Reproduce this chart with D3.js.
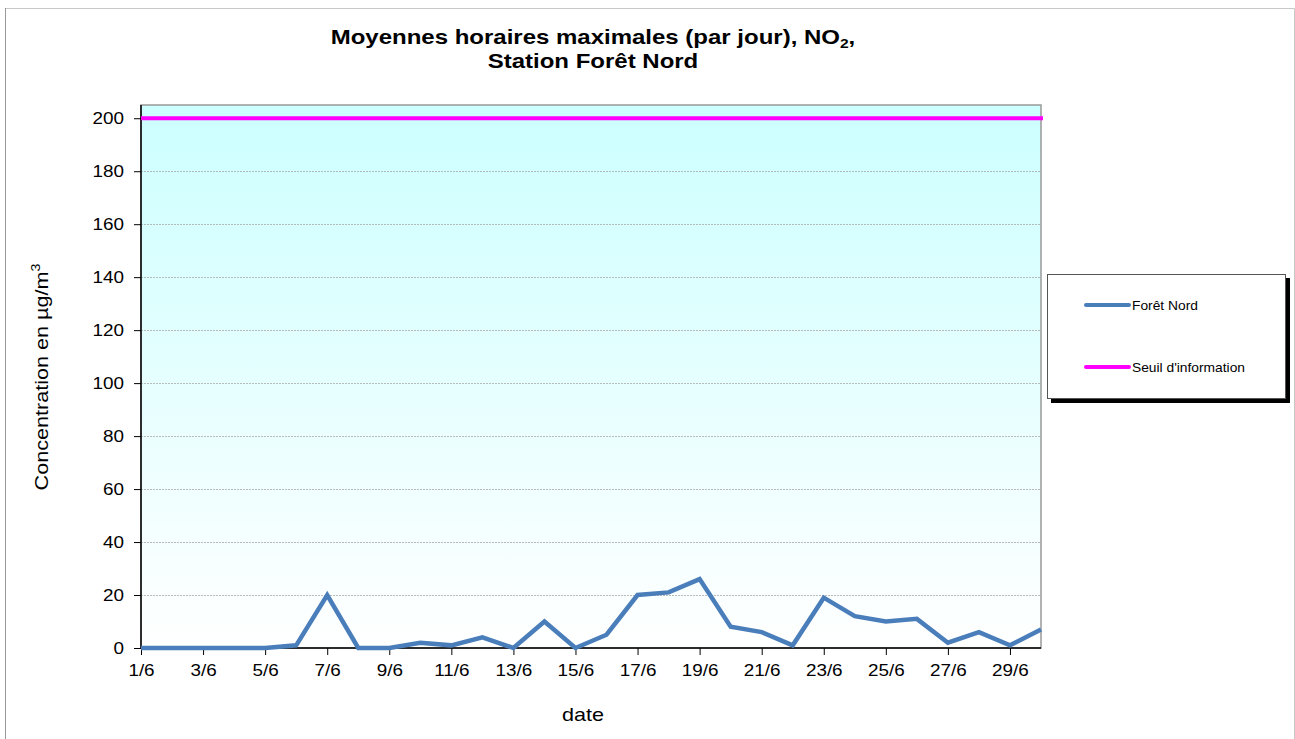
<!DOCTYPE html>
<html>
<head>
<meta charset="utf-8">
<script src="https://cdn.jsdelivr.net/npm/d3@7"></script>
<style>
  body { margin: 0; background: #fff; }
  svg { display: block; font-family: Arial, "Liberation Sans", sans-serif; }
</style>
</head>
<body>
<div id="chart"></div>
<script>
// data
var days = d3.range(1, 31);
var dayLabels = days.map(function(d) { return d + '/6'; });
var foretNord = [0, 0, 0, 0, 0, 1, 20, 0, 0, 2, 1, 4, 0, 10, 0, 5, 20, 21, 26, 8, 6, 1, 19, 12, 10, 11, 2, 6, 1, 7];
var seuil = 200;
var yTicks = [0, 20, 40, 60, 80, 100, 120, 140, 160, 180, 200];

var width = 1295, height = 739;
var plot = { left: 141, right: 1041, top: 105, bottom: 648 };
var stretch = 1.18; // text in the original is drawn wider than plain Arial

var svg = d3.select('#chart').append('svg')
  .attr('width', width)
  .attr('height', height);

// outer frame
svg.append('path')
  .attr('d', 'M5.5,750V8.5H1294.5V750')
  .attr('fill', 'none')
  .attr('stroke', '#c8c8c8');
svg.append('line')
  .attr('x1', 5.5).attr('x2', 5.5).attr('y1', 8).attr('y2', 739)
  .attr('stroke', '#999');

var defs = svg.append('defs');
var grad = defs.append('linearGradient')
  .attr('id', 'bg')
  .attr('x1', 0).attr('y1', 0).attr('x2', 0).attr('y2', 1);
grad.append('stop').attr('offset', '0%').attr('stop-color', '#ccffff');
grad.append('stop').attr('offset', '100%').attr('stop-color', '#ffffff');

var x = d3.scalePoint()
  .domain(days)
  .range([plot.left, plot.right]);

var y = d3.scaleLinear()
  .domain([0, 205])
  .range([plot.bottom, plot.top]);

// plot background
svg.append('rect')
  .attr('x', plot.left)
  .attr('y', plot.top)
  .attr('width', plot.right - plot.left)
  .attr('height', plot.bottom - plot.top)
  .attr('fill', 'url(#bg)')
  .attr('stroke', '#999')
  .attr('stroke-width', 1.5);

// gridlines
svg.append('g')
  .selectAll('line')
  .data(yTicks.slice(1))
  .enter().append('line')
  .attr('x1', plot.left)
  .attr('x2', plot.right)
  .attr('y1', function(d) { return Math.round(y(d)) + 0.5; })
  .attr('y2', function(d) { return Math.round(y(d)) + 0.5; })
  .attr('stroke', '#aaa')
  .attr('stroke-width', 0.8)
  .attr('stroke-dasharray', '2,1');

// y axis
var yAxis = svg.append('g')
  .attr('transform', 'translate(' + plot.left + ',0)')
  .call(d3.axisLeft(y).tickValues(yTicks).tickSize(7).tickPadding(10));
yAxis.select('.domain').attr('stroke', '#000').attr('stroke-width', 1.5)
  .attr('d', 'M0,' + plot.top + 'V' + plot.bottom);
yAxis.selectAll('.tick line').attr('stroke', '#000');
yAxis.selectAll('text')
  .attr('font-size', 16).attr('fill', '#000')
  .attr('font-family', 'Arial, "Liberation Sans", sans-serif')
  .attr('x', -17 / stretch)
  .attr('transform', 'scale(' + stretch + ',1)');

// x axis
var xAxis = svg.append('g')
  .attr('transform', 'translate(0,' + plot.bottom + ')')
  .call(d3.axisBottom(x)
    .tickValues(days.filter(function(d) { return d % 2 === 1; }))
    .tickFormat(function(d) { return dayLabels[d - 1]; })
    .tickSize(7).tickPadding(10));
xAxis.select('.domain').attr('stroke', '#000').attr('stroke-width', 1.5)
  .attr('d', 'M' + plot.left + ',0H' + plot.right);
xAxis.selectAll('.tick line').attr('stroke', '#000');
xAxis.selectAll('text')
  .attr('font-size', 16).attr('fill', '#000')
  .attr('font-family', 'Arial, "Liberation Sans", sans-serif')
  .attr('transform', 'scale(' + stretch + ',1)');

// threshold line
svg.append('line')
  .attr('x1', plot.left)
  .attr('x2', plot.right + 2)
  .attr('y1', y(seuil))
  .attr('y2', y(seuil))
  .attr('stroke', '#ff00ff')
  .attr('stroke-width', 4);

// series
var line = d3.line()
  .x(function(d, i) { return x(days[i]); })
  .y(function(d) { return y(d); });

svg.append('path')
  .datum(foretNord)
  .attr('d', line)
  .attr('fill', 'none')
  .attr('stroke', '#4a7ebb')
  .attr('stroke-width', 4.5)
  .attr('stroke-linejoin', 'miter');

// title
var t1 = svg.append('text')
  .attr('transform', 'translate(593,44) scale(1.2,1)')
  .attr('text-anchor', 'middle')
  .attr('font-size', 20)
  .attr('font-weight', 'bold')
  .text('Moyennes horaires maximales (par jour), NO');
t1.append('tspan').attr('font-size', 13).attr('dy', 4).text('2');
t1.append('tspan').attr('dy', -4).text(',');
svg.append('text')
  .attr('transform', 'translate(593,68) scale(1.2,1)')
  .attr('text-anchor', 'middle')
  .attr('font-size', 20)
  .attr('font-weight', 'bold')
  .text('Station Forêt Nord');

// axis titles
svg.append('text')
  .attr('transform', 'translate(583,721) scale(1.2,1)')
  .attr('text-anchor', 'middle')
  .attr('font-size', 18)
  .text('date');

var yt = svg.append('text')
  .attr('transform', 'translate(48,377) rotate(-90) scale(1.2,1)')
  .attr('text-anchor', 'middle')
  .attr('font-size', 18)
  .text('Concentration en µg/m');
yt.append('tspan').attr('font-size', 12).attr('dy', -8).text('3');

// legend
var legend = svg.append('g');
legend.append('rect')
  .attr('x', 1051).attr('y', 278)
  .attr('width', 239).attr('height', 125)
  .attr('fill', '#000');
legend.append('rect')
  .attr('x', 1047.5).attr('y', 274.5)
  .attr('width', 238).attr('height', 124)
  .attr('fill', '#fff')
  .attr('stroke', '#555');

var legendItems = [
  { name: 'Forêt Nord', color: '#4a7ebb', y: 305 },
  { name: "Seuil d'information", color: '#ff00ff', y: 367 }
];
legend.selectAll('g.item')
  .data(legendItems)
  .enter().append('g')
  .attr('class', 'item')
  .each(function(d) {
    var g = d3.select(this);
    g.append('line')
      .attr('x1', 1086).attr('x2', 1129)
      .attr('y1', d.y).attr('y2', d.y)
      .attr('stroke', d.color)
      .attr('stroke-width', 4)
      .attr('stroke-linecap', 'round');
    g.append('text')
      .attr('transform', 'translate(1132,' + (d.y + 4.5) + ') scale(1.15,1)')
      .attr('font-size', 12)
      .text(d.name);
  });
</script>
</body>
</html>
